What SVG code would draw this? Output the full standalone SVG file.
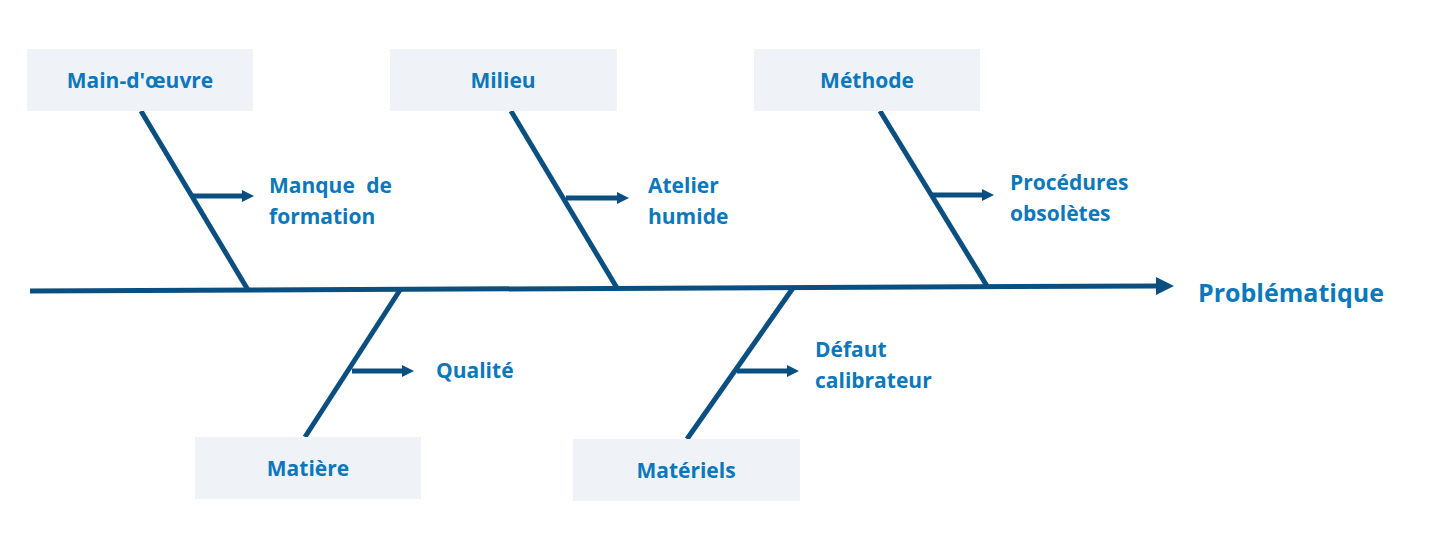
<svg xmlns="http://www.w3.org/2000/svg" width="1432" height="540" viewBox="0 0 1432 540">
<style>
.box{fill:#eff3f7}
.t{font-family:"Open Sans","Noto Sans",sans-serif;font-weight:bold;font-size:21px;fill:#0b78bc}
.c{text-anchor:middle}
.l{stroke:#0b4f80;stroke-width:5;fill:none}
.a{stroke:#0b4f80;stroke-width:5;fill:none;marker-end:url(#ah)}
</style>
<defs>
<marker id="ah" markerUnits="userSpaceOnUse" markerWidth="14" markerHeight="14" refX="0" refY="7" orient="auto" viewBox="0 0 14 14"><path d="M0,1 L12,7 L0,13Z" fill="#0b4f80"/></marker>
<marker id="ahb" markerUnits="userSpaceOnUse" markerWidth="18" markerHeight="18" refX="0" refY="9" orient="auto" viewBox="0 0 18 18"><path d="M0,0 L18,9 L0,18Z" fill="#0b4f80"/></marker>
</defs>
<g id="connectors">
<path class="l" d="M30,291 L1156,286" marker-end="url(#ahb)"/>
<path class="l" d="M141,111 L248,290"/>
<path class="l" d="M511,111 L617,288"/>
<path class="l" d="M880,111 L987,286"/>
<path class="l" d="M400,290 L305,437"/>
<path class="l" d="M793,288 L687,439"/>
<path class="a" d="M193,196 L242,196"/>
<path class="a" d="M566,198 L617,198"/>
<path class="a" d="M932,195 L982,195"/>
<path class="a" d="M352,371 L402,371"/>
<path class="a" d="M737,371 L787,371"/>
</g>
<g id="main-oeuvre"><rect class="box" x="27" y="49" width="226" height="62"/><text class="t c" x="140" y="88">Main-d'œuvre</text></g>
<g id="milieu"><rect class="box" x="390" y="49" width="227" height="62"/><text class="t c" x="503" y="88">Milieu</text></g>
<g id="methode"><rect class="box" x="754" y="49" width="226" height="62"/><text class="t c" x="867" y="88">Méthode</text></g>
<g id="matiere"><rect class="box" x="195" y="437" width="226" height="62"/><text class="t c" x="308" y="476">Matière</text></g>
<g id="materiels"><rect class="box" x="573" y="439" width="227" height="62"/><text class="t c" x="686" y="478">Matériels</text></g>
<g id="manque"><text class="t" x="269" y="193" word-spacing="6">Manque de</text><text class="t" x="269" y="224">formation</text></g>
<g id="atelier"><text class="t" x="648" y="193">Atelier</text><text class="t" x="648" y="224">humide</text></g>
<g id="procedures"><text class="t" x="1010" y="190">Procédures</text><text class="t" x="1010" y="221">obsolètes</text></g>
<g id="qualite"><text class="t" x="436" y="378">Qualité</text></g>
<g id="defaut"><text class="t" x="815" y="357">Défaut</text><text class="t" x="815" y="388">calibrateur</text></g>
<g id="problematique"><text class="t" x="1198" y="302" style="font-size:25px">Problématique</text></g>
</svg>
